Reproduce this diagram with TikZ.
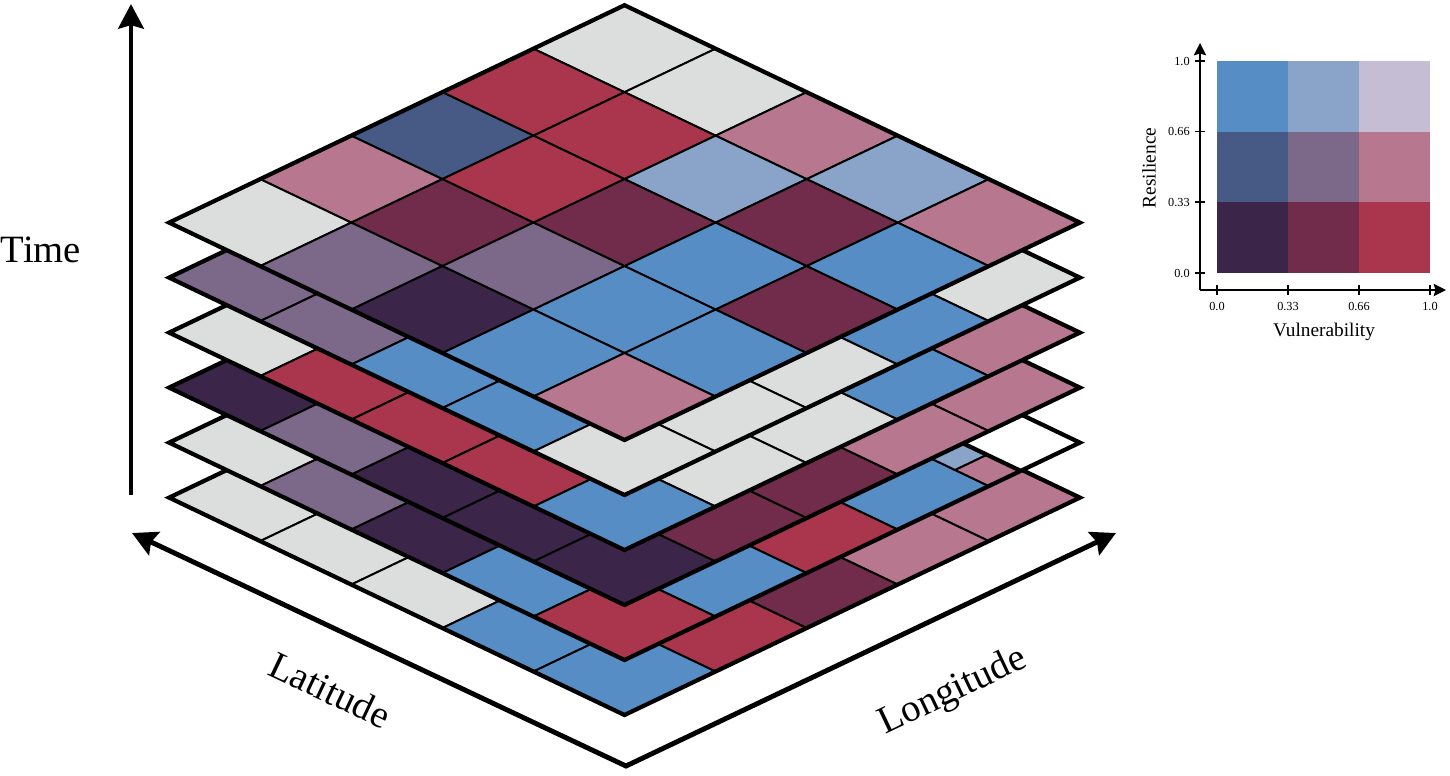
\documentclass[tikz,border=0pt]{standalone}
\usepackage{fontspec}
\setmainfont{Liberation Serif}
\usetikzlibrary{arrows.meta}
\definecolor{cB}{HTML}{568DC5}
\definecolor{cLB}{HTML}{8AA3C9}
\definecolor{cLL}{HTML}{C5BDD3}
\definecolor{cP}{HTML}{B7788F}
\definecolor{cR}{HTML}{AA364D}
\definecolor{cW}{HTML}{722C4B}
\definecolor{cDP}{HTML}{3B2649}
\definecolor{cDB}{HTML}{475A86}
\definecolor{cPu}{HTML}{7C6889}
\definecolor{cG}{HTML}{DCDEDD}
\newcommand\lp[3]{({624.5+91.08*((#1)-(#2))},{5.2+55*(#3)+43.48*((#1)+(#2))})}
\newcommand\cellq[5]{\lp{#1}{#3}{#5} -- \lp{#2}{#3}{#5} -- \lp{#2}{#4}{#5} -- \lp{#1}{#4}{#5} -- cycle}
\newcommand\gridlayer[3]{%
  \foreach \c [count=\n from 0] in {#2} {
    \pgfmathtruncatemacro\ii{mod(\n,5)}
    \pgfmathtruncatemacro\jj{div(\n,5)}
    \filldraw[fill=\c, cellline] \cellq{\ii}{\ii+1}{\jj}{\jj+1}{#1};
  }
  #3
  \draw[border] \cellq{0}{5}{0}{5}{#1};
}
\tikzset{
  cellline/.style={draw=black, line width=1.1pt},
  border/.style={draw=black, line width=2.4pt, line join=miter},
  axisline/.style={draw=black, line width=2.8pt, line join=miter},
  legline/.style={draw=black, line width=1.1pt},
  biglabel/.style={font=\fontsize{22}{26}\selectfont, inner sep=0pt},
  ticklabel/.style={font=\fontsize{7}{8}\selectfont, inner sep=0pt},
  leglabel/.style={font=\fontsize{11}{13}\selectfont, inner sep=0pt}
}
\begin{document}
\begin{tikzpicture}[x=0.02cm, y=-0.02cm]
\useasboundingbox (0,0) rectangle (1450,775);

% layers, bottom first
\gridlayer{5}{cG,cG,cG,cG,cP, cG,cG,cG,cG,cP, cG,cG,cG,cG,cW, cG,cG,cG,cG,cR, cG,cG,cG,cB,cB}{}
\gridlayer{4}{cG,cG,cG,cG,white, cG,cG,cG,cG,cB, cG,cG,cG,cG,cR, cG,cG,cG,cG,cB, cG,cPu,cDP,cB,cR}{%
  \filldraw[fill=cLB, cellline] \cellq{4}{4.63}{0.65}{1}{4};
  \filldraw[fill=cP, cellline] \cellq{4.63}{5}{0.65}{1}{4};
  \draw[border] \lp{4}{0.65}{4} -- \lp{5}{0.65}{4};
}
\gridlayer{3}{cG,cG,cG,cG,cP, cG,cG,cG,cG,cP, cG,cG,cG,cG,cW, cG,cG,cG,cG,cW, cDP,cPu,cDP,cDP,cDP}{}
\gridlayer{2}{cG,cG,cG,cG,cP, cG,cG,cG,cG,cB, cG,cG,cG,cG,cG, cG,cG,cG,cG,cG, cG,cR,cR,cR,cB}{}
\gridlayer{1}{cG,cG,cG,cG,cG, cG,cG,cG,cG,cB, cG,cG,cG,cG,cG, cG,cG,cG,cG,cG, cPu,cPu,cB,cB,cG}{}
\gridlayer{0}{cG,cG,cP,cLB,cP, cR,cR,cLB,cW,cB, cDB,cR,cW,cB,cW, cP,cW,cPu,cB,cB, cG,cPu,cDP,cB,cP}{}

% main axes
\coordinate (tbot) at (131,495);
\coordinate (ttop) at (131,4);
\coordinate (orig) at (626,766);
\coordinate (latend) at (132,533);
\coordinate (lonend) at (1116,533);
\draw[axisline, -{Stealth[length=14pt, width=14.5pt, inset=2pt]}] (tbot) -- (ttop);
\draw[axisline, {Stealth[length=14pt, width=14.5pt, inset=2pt]}-{Stealth[length=14pt, width=14.5pt, inset=2pt]}] (latend) -- (orig) -- (lonend);

\node[biglabel] (time) at (41,250) {Time};
\node[biglabel, rotate=-25.4] (lat) at (330,690) {Latitude};
\node[biglabel, rotate=25.4] (lon) at (953,692) {Longitude};

% legend
\fill[cB]  (1217,61) rectangle (1288,131.5);
\fill[cLB] (1288,61) rectangle (1359,131.5);
\fill[cLL] (1359,61) rectangle (1430,131.5);
\fill[cDB] (1217,131.5) rectangle (1288,202);
\fill[cPu] (1288,131.5) rectangle (1359,202);
\fill[cP]  (1359,131.5) rectangle (1430,202);
\fill[cDP] (1217,202) rectangle (1288,273);
\fill[cW]  (1288,202) rectangle (1359,273);
\fill[cR]  (1359,202) rectangle (1430,273);

\coordinate (lo) at (1200,290);
\coordinate (ly) at (1200,43);
\coordinate (lx) at (1446,290);
\draw[legline, -{Stealth[length=7pt, width=7pt, inset=1pt]}] (lo) -- (ly);
\draw[legline, -{Stealth[length=7pt, width=7pt, inset=1pt]}] (lo) -- (lx);
\foreach \y/\t in {61/1.0, 131.5/0.66, 202/0.33, 273/0.0} {
  \draw[legline] (1195,\y) -- (1205,\y);
  \node[ticklabel, anchor=east] at (1190,\y) {\t};
}
\foreach \x/\t in {1217/0.0, 1288/0.33, 1359/0.66, 1430/1.0} {
  \draw[legline] (\x,285) -- (\x,295);
  \node[ticklabel, anchor=north] at (\x,302) {\t};
}
\node[leglabel, rotate=90] (res) at (1149,168) {Resilience};
\node[leglabel] (vul) at (1324,332) {Vulnerability};
\end{tikzpicture}
\end{document}
